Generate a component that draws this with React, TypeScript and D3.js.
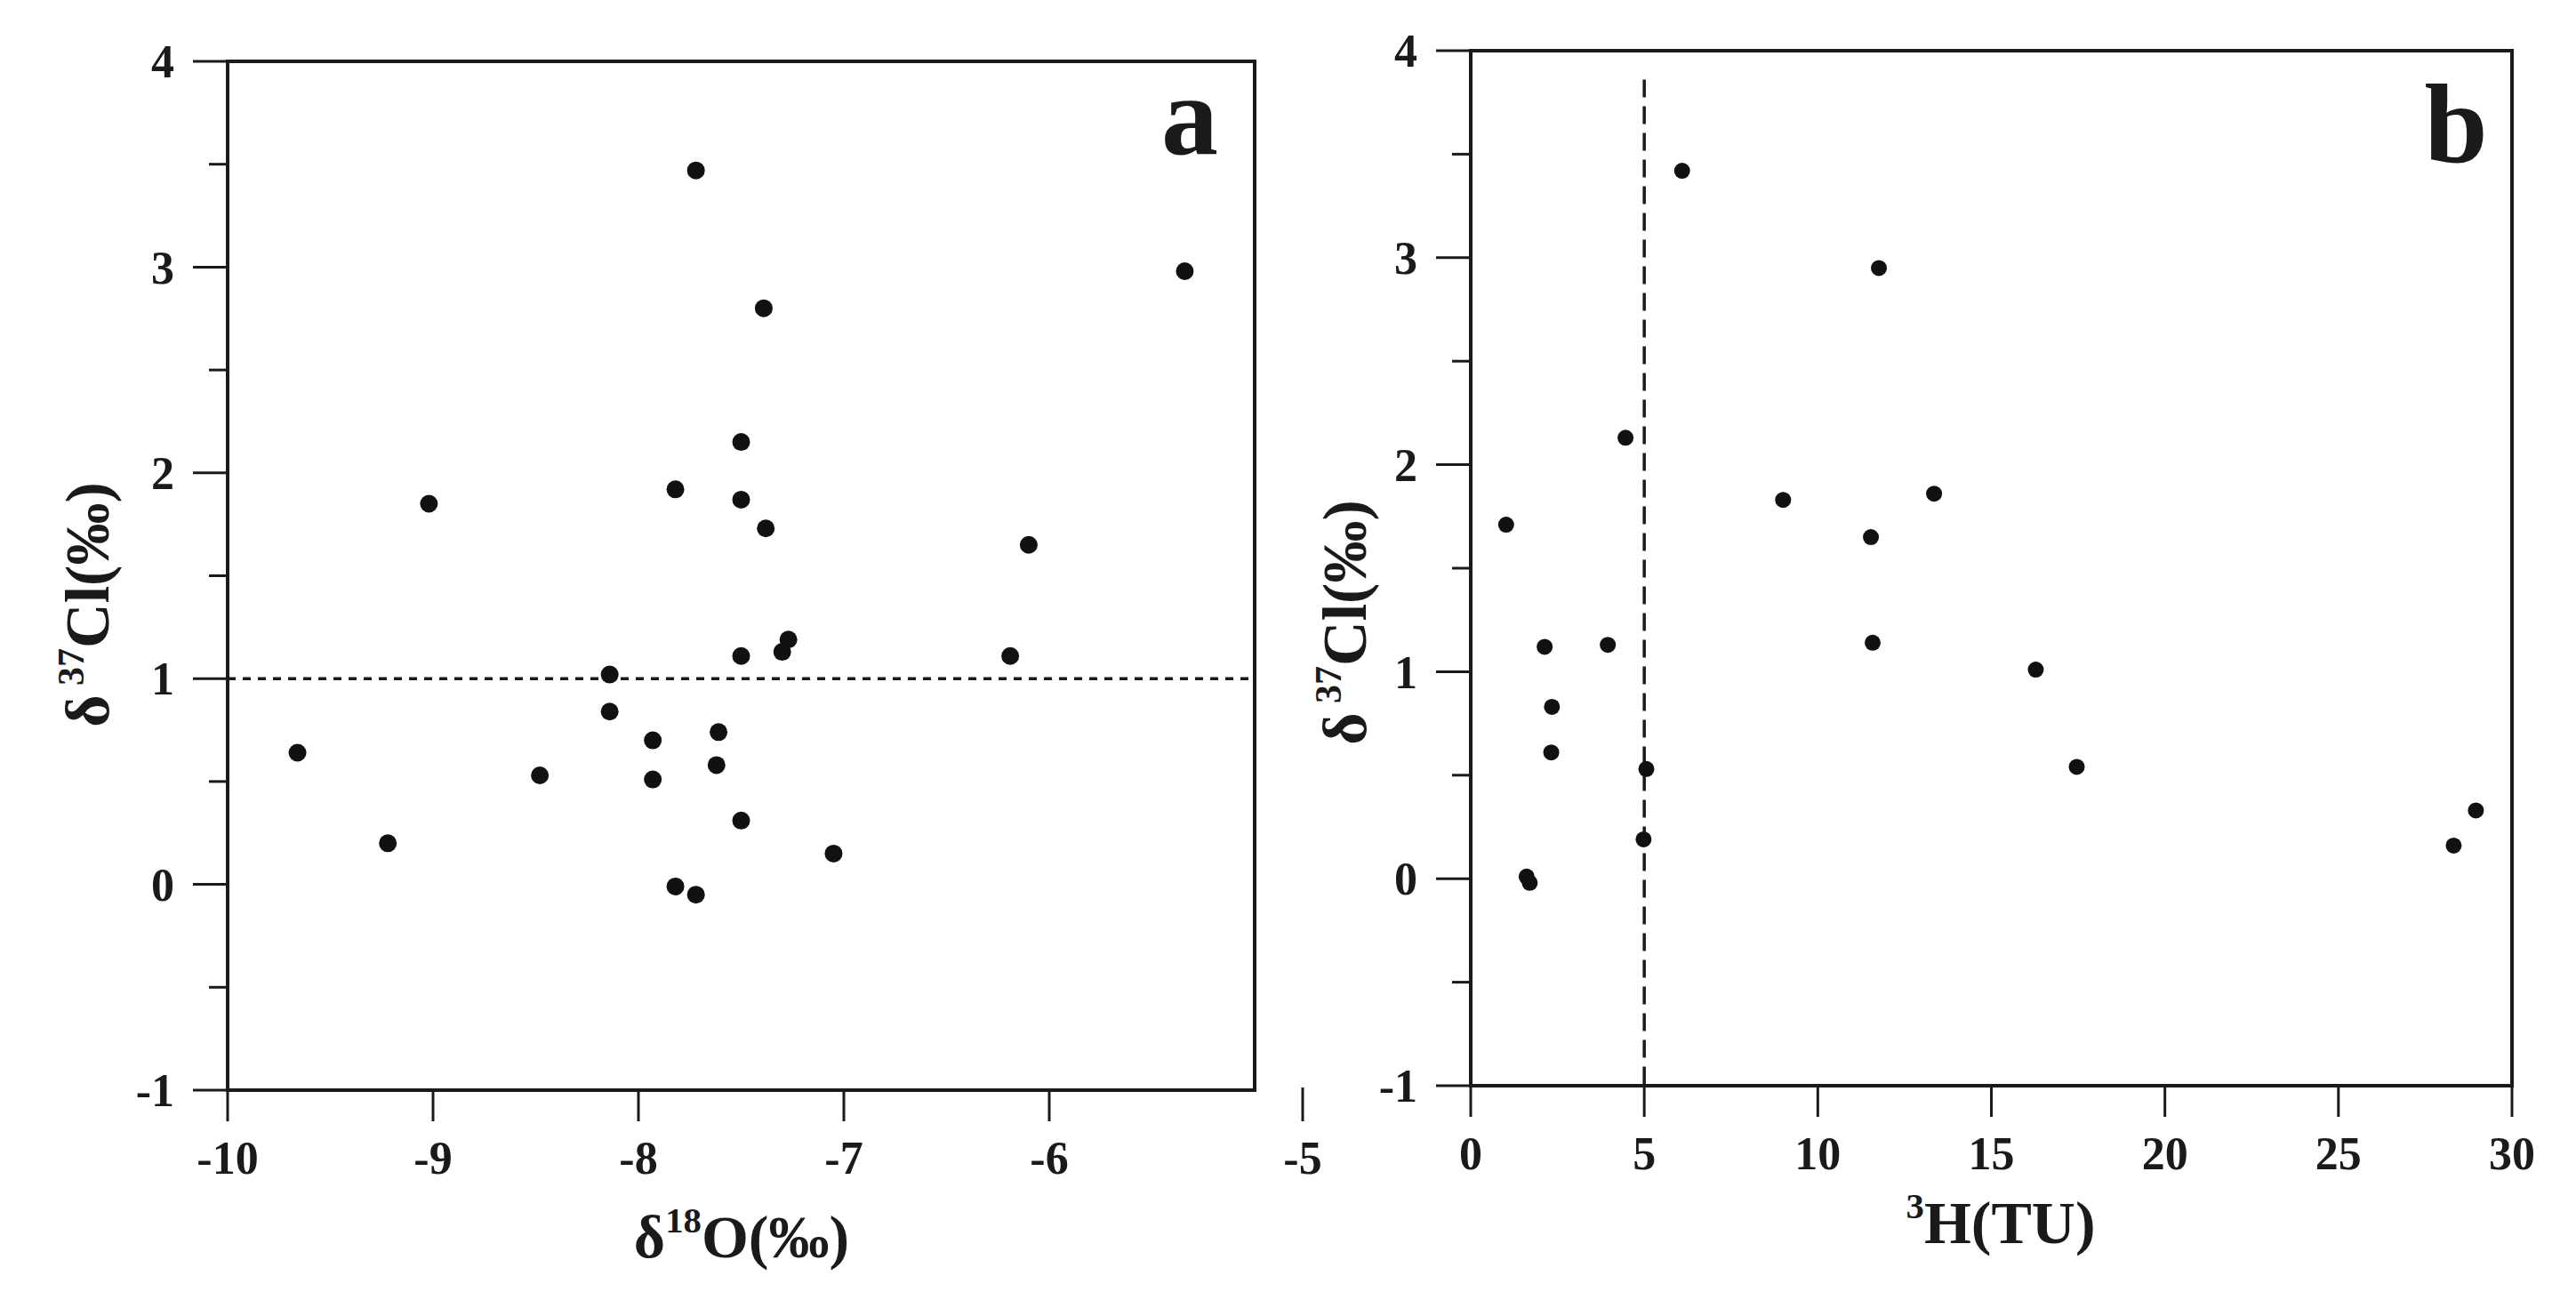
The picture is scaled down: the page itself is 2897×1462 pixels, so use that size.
import React from "react";
import * as d3 from "d3";

// Panel a: δ18O (‰) vs δ37Cl (‰)
const oxygenA = [-9.66, -9.22, -9.02, -8.48, -8.14, -8.14, -7.93, -7.93, -7.82, -7.82, -7.72, -7.72, -7.61, -7.62, -7.5, -7.5, -7.5, -7.5, -7.39, -7.38, -7.3, -7.27, -7.05, -6.19, -6.1, -5.34];
const chlorineA = [0.64, 0.2, 1.85, 0.53, 1.02, 0.84, 0.7, 0.51, 1.92, -0.01, 3.47, -0.05, 0.74, 0.58, 2.15, 1.87, 1.11, 0.31, 2.8, 1.73, 1.13, 1.19, 0.15, 1.11, 1.65, 2.98];

// Panel b: 3H (TU) vs δ37Cl (‰)
const tritiumB = [1.02, 1.61, 1.7, 2.13, 2.34, 2.32, 3.95, 4.46, 4.98, 5.06, 6.09, 9.0, 11.53, 11.58, 11.76, 13.35, 16.28, 17.46, 28.32, 28.96];
const chlorineB = [1.71, 0.01, -0.02, 1.12, 0.83, 0.61, 1.13, 2.13, 0.19, 0.53, 3.42, 1.83, 1.65, 1.14, 2.95, 1.86, 1.01, 0.54, 0.16, 0.33];

const xTicksA = [-10, -9, -8, -7, -6];
const strayTickA = -5;
const xTicksB = [0, 5, 10, 15, 20, 25, 30];
const yTicksMajor = [-1, 0, 1, 2, 3, 4];
const yTicksMinor = [-0.5, 0.5, 1.5, 2.5, 3.5];
const refLineA = 1; // horizontal dotted line δ37Cl = 1
const refLineB = 5; // vertical dashed line 3H = 5
const refLineBTop = 3.86;

const FONT = "'Liberation Serif', 'Times New Roman', serif";
const INK = "#1a1a1a";
const fmt = (v: number) => (v < 0 ? "-" + Math.abs(v) : String(v));

export default function App() {
  const xA = d3.scaleLinear().domain([-10, -5]).range([256, 1411]);
  const yA = d3.scaleLinear().domain([-1, 4]).range([1226, 69]);
  const xB = d3.scaleLinear().domain([0, 30]).range([1654, 2825]);
  const yB = d3.scaleLinear().domain([-1, 4]).range([1221, 57]);

  const tickFont = 52;
  const titleFont = 68;
  const yTitleFont = 70;

  const yAxis = (x: d3.ScaleLinear<number, number>, y: d3.ScaleLinear<number, number>, key: string) => {
    const x0 = x.range()[0];
    return (
      <g key={key}>
        {yTicksMajor.map((t) => (
          <g key={"M" + t}>
            <line x1={x0 - 39} x2={x0} y1={y(t)} y2={y(t)} stroke={INK} strokeWidth={3} />
            <text x={x0 - 60} y={y(t)} dy="0.35em" textAnchor="end" fontSize={tickFont} fontWeight="bold" fontFamily={FONT} fill={INK}>
              {fmt(t)}
            </text>
          </g>
        ))}
        {yTicksMinor.map((t) => (
          <line key={"m" + t} x1={x0 - 21} x2={x0} y1={y(t)} y2={y(t)} stroke={INK} strokeWidth={3} />
        ))}
      </g>
    );
  };

  const xAxis = (x: d3.ScaleLinear<number, number>, y: d3.ScaleLinear<number, number>, ticks: number[], key: string) => {
    const y0 = y.range()[0];
    return (
      <g key={key}>
        {ticks.map((t) => (
          <g key={t}>
            <line x1={x(t)} x2={x(t)} y1={y0} y2={y0 + 35} stroke={INK} strokeWidth={3} />
            <text x={x(t)} y={y0 + 94} textAnchor="middle" fontSize={tickFont} fontWeight="bold" fontFamily={FONT} fill={INK}>
              {fmt(t)}
            </text>
          </g>
        ))}
      </g>
    );
  };

  const frame = (x: d3.ScaleLinear<number, number>, y: d3.ScaleLinear<number, number>) => {
    const [l, r] = x.range();
    const [b, t] = y.range();
    return <rect x={l} y={t} width={r - l} height={b - t} fill="none" stroke={INK} strokeWidth={4} />;
  };

  // stray -5 tick of panel a, drawn right of the frame as in the original
  const strayX = xA(strayTickA) + 54;

  return (
    <svg
      width={2897}
      height={1462}
      viewBox="0 0 2897 1462"
      style={{ position: "absolute", left: 0, top: 0, display: "block", background: "#ffffff" }}
    >
      <rect x={0} y={0} width={2897} height={1462} fill="#ffffff" />

      {/* Panel a */}
      <line x1={xA(-10)} x2={xA(-5)} y1={yA(refLineA)} y2={yA(refLineA)} stroke={INK} strokeWidth={3.5} strokeDasharray="9 8" />
      {frame(xA, yA)}
      {yAxis(xA, yA, "ya")}
      {xAxis(xA, yA, xTicksA, "xa")}
      <line x1={strayX} x2={strayX} y1={yA(-1) - 3} y2={yA(-1) + 35} stroke={INK} strokeWidth={3} />
      <text x={strayX} y={yA(-1) + 94} textAnchor="middle" fontSize={tickFont} fontWeight="bold" fontFamily={FONT} fill={INK}>
        {fmt(strayTickA)}
      </text>
      {oxygenA.map((v, i) => (
        <circle key={i} cx={xA(v)} cy={yA(chlorineA[i])} r={10} fill="#111" />
      ))}
      <text x={1338} y={173} textAnchor="middle" fontSize={128} fontWeight="bold" fontFamily={FONT} fill={INK}>a</text>
      <text x={834} y={1414} textAnchor="middle" fontSize={titleFont} fontWeight="bold" fontFamily={FONT} fill={INK}>
        δ<tspan fontSize={titleFont * 0.6} dy={-28}>18</tspan><tspan dy={28}>O(‰)</tspan>
      </text>
      <text transform="translate(122,680) rotate(-90)" textAnchor="middle" fontSize={yTitleFont} fontWeight="bold" fontFamily={FONT} fill={INK}>
        δ<tspan fontSize={yTitleFont * 0.6} dy={-28}> 37</tspan><tspan dy={28}>Cl(‰)</tspan>
      </text>

      {/* Panel b */}
      <line x1={xB(refLineB)} x2={xB(refLineB)} y1={yB(refLineBTop)} y2={yB(-1)} stroke={INK} strokeWidth={3.5} strokeDasharray="20 10" />
      {frame(xB, yB)}
      {yAxis(xB, yB, "yb")}
      {xAxis(xB, yB, xTicksB, "xb")}
      {tritiumB.map((v, i) => (
        <circle key={i} cx={xB(v)} cy={yB(chlorineB[i])} r={9} fill="#111" />
      ))}
      <text x={2762} y={182} textAnchor="middle" fontSize={128} fontWeight="bold" fontFamily={FONT} fill={INK}>b</text>
      <text x={2250} y={1398} textAnchor="middle" fontSize={titleFont} fontWeight="bold" fontFamily={FONT} fill={INK}>
        <tspan fontSize={titleFont * 0.6} dy={-28}>3</tspan><tspan dy={28}>H(TU)</tspan>
      </text>
      <text transform="translate(1536,700) rotate(-90)" textAnchor="middle" fontSize={yTitleFont} fontWeight="bold" fontFamily={FONT} fill={INK}>
        δ<tspan fontSize={yTitleFont * 0.6} dy={-28}> 37</tspan><tspan dy={28}>Cl(‰)</tspan>
      </text>
    </svg>
  );
}
